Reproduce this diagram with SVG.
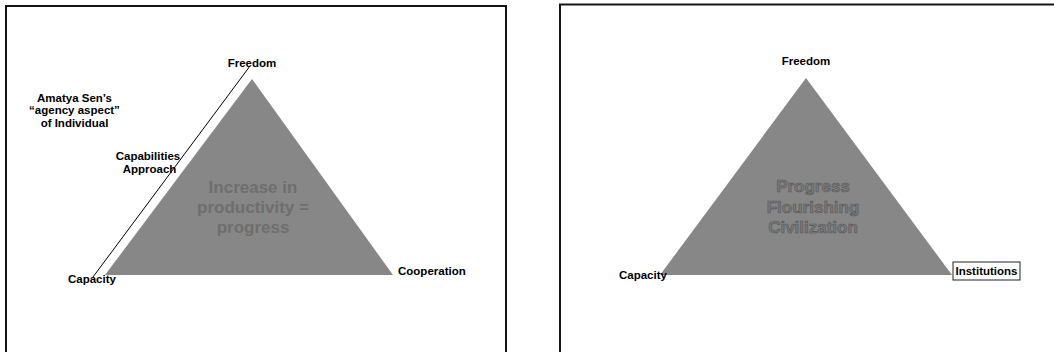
<svg xmlns="http://www.w3.org/2000/svg" width="1054" height="352" viewBox="0 0 1054 352">
  <style>
    .frame { fill: none; stroke: #151515; stroke-width: 2; }
    .tri { fill: #878787; stroke: none; }
    .lbl { font-family: "Liberation Sans", Arial, sans-serif; font-weight: bold; font-size: 11.5px; fill: #000; }
    .mid { text-anchor: middle; }
    .big { font-family: "Liberation Sans", Arial, sans-serif; font-weight: bold; font-size: 17px; text-anchor: middle; }
    .big1 { fill: #6e6e6e; }
    .big2 { fill: #7a7a7a; stroke: #555; stroke-width: 0.6; }
  </style>
  <rect class="frame" x="6" y="6" width="500" height="360"/>
  <rect class="frame" x="560" y="4.5" width="520" height="360"/>

  <g id="left-triangle">
    <polygon class="tri" points="252,79 105,275 393,275"/>
    <text class="big big1" x="253" y="193">Increase in</text>
    <text class="big big1" x="253" y="213">productivity =</text>
    <text class="big big1" x="253" y="232.5">progress</text>
  </g>
  <g id="connectors">
    <line x1="250" y1="66" x2="93" y2="277" stroke="#000" stroke-width="1"/>
  </g>
  <g id="left-freedom"><text class="lbl mid" x="252" y="67">Freedom</text></g>
  <g id="left-sen">
    <text class="lbl mid" x="74.5" y="101.5">Amatya Sen’s</text>
    <text class="lbl mid" x="74.5" y="114">“agency aspect”</text>
    <text class="lbl mid" x="74.5" y="126.5">of Individual</text>
  </g>
  <g id="left-capabilities">
    <text class="lbl mid" x="148" y="160">Capabilities</text>
    <text class="lbl mid" x="149.5" y="172.5">Approach</text>
  </g>
  <g id="left-capacity"><text class="lbl" x="68" y="282.5">Capacity</text></g>
  <g id="left-cooperation"><text class="lbl" x="398" y="275">Cooperation</text></g>

  <g id="right-triangle">
    <polygon class="tri" points="806,78 660,275 952,275"/>
    <text class="big big2" x="813" y="191.5">Progress</text>
    <text class="big big2" x="813" y="212.5">Flourishing</text>
    <text class="big big2" x="813" y="232.5">Civilization</text>
  </g>
  <g id="right-freedom"><text class="lbl mid" x="806" y="64.5">Freedom</text></g>
  <g id="right-capacity"><text class="lbl" x="619" y="278.5">Capacity</text></g>
  <g id="right-institutions">
    <rect x="953" y="262" width="67" height="18" fill="#fff" stroke="#222" stroke-width="1"/>
    <text class="lbl" x="955.5" y="275">Institutions</text>
  </g>
</svg>
